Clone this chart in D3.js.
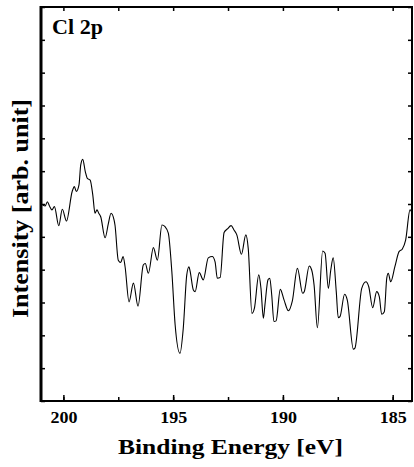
<!DOCTYPE html>
<html>
<head>
<meta charset="utf-8">
<script src="https://cdn.jsdelivr.net/npm/d3@7"></script>
<style>
  body { margin: 0; background: #fff; }
  text { font-family: "Liberation Serif", "Times New Roman", serif; font-weight: bold; fill: #000; }
</style>
</head>
<body>
<div id="chart"></div>
<script>
// establish variables
var w = 414;
var h = 467;
var plotL = 41, plotT = 7, plotR = 412, plotB = 401;

// Cl 2p spectrum, binding energy (eV) and intensity (arb. unit)
var energy = [
  200.94, 200.83, 200.73, 200.64, 200.52, 200.41, 200.21, 200.05, 199.86, 199.60,
  199.50, 199.41, 199.29, 199.21, 199.12, 199.00, 198.91, 198.78, 198.66, 198.56,
  198.47, 198.39, 198.30, 198.10, 197.95, 197.83, 197.69, 197.65, 197.50, 197.39,
  197.28, 197.19, 197.01, 196.81, 196.60, 196.36, 196.27, 196.13, 195.90, 195.72,
  195.51, 195.37, 195.22, 195.06, 194.91, 194.69, 194.54, 194.38, 194.28, 194.23,
  194.08, 194.00, 193.81, 193.63, 193.40, 193.22, 193.09, 192.99, 192.86, 192.68,
  192.53, 192.36, 192.23, 192.10, 191.89, 191.69, 191.58, 191.41, 191.30, 191.10,
  191.00, 190.89, 190.82, 190.68, 190.60, 190.51, 190.41, 190.31, 190.12, 189.95,
  189.75, 189.57, 189.34, 189.10, 189.03, 188.80, 188.69, 188.58, 188.43, 188.19,
  188.08, 187.93, 187.82, 187.71, 187.57, 187.48, 187.40, 187.19, 187.07, 186.79,
  186.72, 186.41, 186.22, 186.09, 185.91, 185.73, 185.61, 185.50, 185.38, 185.27,
  185.20, 185.09, 184.90, 184.71, 184.56, 184.41, 184.21, 184.09
];
var intensity = [
  5.97, 5.94, 6.07, 5.95, 5.82, 5.92, 5.34, 5.84, 5.48, 6.38,
  6.53, 6.38, 6.58, 7.19, 7.36, 6.98, 6.78, 6.73, 6.27, 5.72,
  5.82, 5.72, 5.61, 4.97, 5.41, 5.72, 5.51, 5.36, 4.29, 4.22,
  4.40, 4.09, 3.02, 3.59, 2.89, 4.14, 4.19, 3.89, 4.67, 4.29,
  5.36, 5.31, 5.11, 3.94, 2.32, 1.45, 2.21, 3.84, 4.09, 3.96,
  3.38, 3.33, 3.91, 3.69, 4.36, 4.40, 4.24, 3.74, 3.76, 5.13,
  5.24, 5.34, 5.21, 5.06, 4.47, 5.06, 4.65, 2.67, 2.82, 3.84,
  3.43, 2.52, 2.92, 3.69, 3.74, 3.23, 2.42, 2.44, 3.40, 3.08,
  2.75, 3.05, 4.04, 3.28, 3.33, 4.11, 3.99, 3.53, 2.23, 4.57,
  4.50, 3.43, 3.99, 4.36, 3.33, 2.54, 2.57, 3.25, 3.08, 1.58,
  1.61, 3.43, 3.63, 3.48, 2.84, 3.33, 3.18, 2.64, 2.72, 3.74,
  3.89, 3.63, 4.09, 4.55, 4.63, 4.90, 5.82, 5.69
];

var xMajor = [200, 195, 190, 185];
var xMinor = [200, 197.5, 195, 192.5, 190, 187.5, 185];
var yTicks = d3.range(0, 13);

var data = energy.map(function(e, i) { return { e: e, v: intensity[i] }; });

// scales
var x = d3.scaleLinear().domain([201.02, 184.12]).range([plotL, plotR]);
var y = d3.scaleLinear().domain([0, 12]).range([plotB, plotT]);

// insert svg element
var svg = d3.select("#chart").append("svg")
    .attr("width", w)
    .attr("height", h);

svg.append("clipPath").attr("id", "clip")
   .append("rect")
   .attr("x", plotL).attr("y", plotT)
   .attr("width", plotR - plotL).attr("height", plotB - plotT);

// axes, ticks pointing inward
var xBottom = d3.axisBottom(x).tickValues(xMinor).tickSize(-4).tickFormat("");
var xBottomMajor = d3.axisBottom(x).tickValues(xMajor).tickSize(-6).tickPadding(10)
    .tickFormat(d3.format("d"));
var xTop = d3.axisTop(x).tickValues(xMinor).tickSize(-4).tickFormat("");
var yLeft = d3.axisLeft(y).tickValues(yTicks).tickSize(-4).tickFormat("");
var yRight = d3.axisRight(y).tickValues(yTicks).tickSize(-4).tickFormat("");

function styleAxis(g) {
  g.select(".domain").remove();
  g.selectAll(".tick line").attr("stroke", "#000").attr("stroke-width", 1.5);
}

svg.append("g").attr("transform", "translate(0," + plotB + ")").call(xBottom).call(styleAxis);
svg.append("g").attr("transform", "translate(0," + plotB + ")").call(xBottomMajor).call(styleAxis)
   .selectAll("text")
   .attr("fill", "#000")
   .attr("dy", "0")
   .attr("y", 22)
   .attr("textLength", 27)
   .attr("lengthAdjust", "spacingAndGlyphs")
   .style("font-size", "16px")
   .style("font-family", "'Liberation Serif', 'Times New Roman', serif")
   .style("font-weight", "bold");
svg.append("g").attr("transform", "translate(0," + plotT + ")").call(xTop).call(styleAxis);
svg.append("g").attr("transform", "translate(" + plotL + ",0)").call(yLeft).call(styleAxis);
svg.append("g").attr("transform", "translate(" + plotR + ",0)").call(yRight).call(styleAxis);

// spectrum line
var line = d3.line()
    .x(function(d) { return x(d.e); })
    .y(function(d) { return y(d.v); })
    .curve(d3.curveMonotoneX);

svg.append("path")
   .datum(data)
   .attr("clip-path", "url(#clip)")
   .attr("d", line)
   .attr("fill", "none")
   .attr("stroke", "#000")
   .attr("stroke-width", 1.1);

// frame
svg.append("rect")
   .attr("x", plotL).attr("y", plotT)
   .attr("width", plotR - plotL).attr("height", plotB - plotT)
   .attr("fill", "none")
   .attr("stroke", "#000")
   .attr("stroke-width", 2);
svg.append("line")
   .attr("x1", plotL).attr("x2", plotL)
   .attr("y1", plotT - 1).attr("y2", plotB + 1)
   .attr("stroke", "#000").attr("stroke-width", 3);

// labels
svg.append("text")
   .attr("x", 52).attr("y", 34)
   .attr("textLength", 51)
   .attr("lengthAdjust", "spacingAndGlyphs")
   .style("font-size", "20px")
   .text("Cl 2p");

svg.append("text")
   .attr("x", 230.5).attr("y", 454)
   .attr("text-anchor", "middle")
   .attr("textLength", 225)
   .attr("lengthAdjust", "spacingAndGlyphs")
   .style("font-size", "22px")
   .text("Binding Energy [eV]");

svg.append("text")
   .attr("transform", "translate(28,208.5) rotate(-90)")
   .attr("text-anchor", "middle")
   .attr("textLength", 219)
   .attr("lengthAdjust", "spacingAndGlyphs")
   .style("font-size", "23px")
   .text("Intensity [arb. unit]");
</script>
</body>
</html>
